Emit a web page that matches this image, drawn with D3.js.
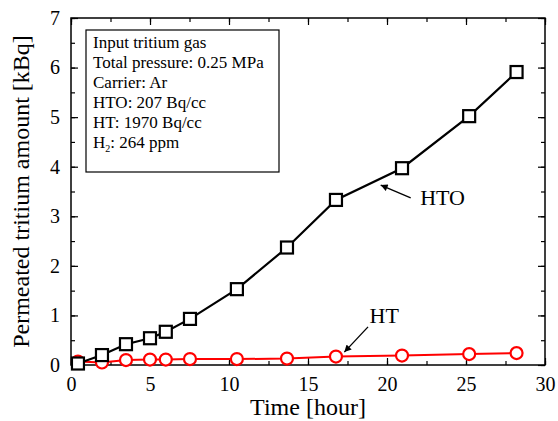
<!DOCTYPE html>
<head><meta charset="utf-8"/></head>
<style>
body { margin: 0; background: white; }
svg { font-family: "Liberation Serif", "Times New Roman", serif; }
</style>
<script src="https://d3js.org/d3.v7.min.js"></script>
<body>
<div id="chart"></div>
</body>
<script>

// data
var hours = [0.44, 1.96, 3.48, 5.0, 6.0, 7.53, 10.5, 13.67, 16.77, 20.95, 25.2, 28.2];
var htoValues = [0.03, 0.2, 0.42, 0.54, 0.67, 0.93, 1.53, 2.37, 3.33, 3.97, 5.02, 5.91];
var htValues = [0.07, 0.05, 0.1, 0.11, 0.11, 0.12, 0.12, 0.13, 0.17, 0.19, 0.22, 0.24];
var xTicks = [0, 5, 10, 15, 20, 25, 30];
var yTicks = [0, 1, 2, 3, 4, 5, 6, 7];
var infoLines = ["Input tritium gas", "Total pressure: 0.25 MPa", "Carrier: Ar",
    "HTO: 207 Bq/cc", "HT: 1970 Bq/cc", "H2: 264 ppm"];

var margin = {top: 18, left: 71, right: 13, bottom: 56},
    width = 558 - margin.left - margin.right,
    height = 421 - margin.top - margin.bottom;

var svg = d3.select("#chart")
    .append("svg")
    .attr("width", 558)
    .attr("height", 421)
    .append("g")
    .attr("transform", "translate(" + margin.left + "," + margin.top + ")");

var x = d3.scaleLinear().domain([0, 30]).range([0, width]);
var y = d3.scaleLinear().domain([0, 7]).range([height, 0]);

var xMinor = d3.range(0, 30.01, 2.5);
var yMinor = d3.range(0, 7.01, 0.5);

// axes, ticks pointing inward
svg.append("g")
    .attr("transform", "translate(0," + height + ")")
    .call(d3.axisBottom(x).tickValues(xMinor).tickSize(-4).tickFormat(""));
svg.append("g")
    .attr("transform", "translate(0," + height + ")")
    .call(d3.axisBottom(x).tickValues(xTicks).tickSize(-7).tickPadding(12).tickFormat(d3.format("d")));
svg.append("g")
    .call(d3.axisTop(x).tickValues(xMinor).tickSize(-4).tickFormat(""));
svg.append("g")
    .call(d3.axisTop(x).tickValues(xTicks).tickSize(-7).tickFormat(""));

svg.append("g")
    .call(d3.axisLeft(y).tickValues(yMinor).tickSize(-4).tickFormat(""));
svg.append("g")
    .call(d3.axisLeft(y).tickValues(yTicks).tickSize(-7).tickPadding(11).tickFormat(d3.format("d")));
svg.append("g")
    .attr("transform", "translate(" + width + ",0)")
    .call(d3.axisRight(y).tickValues(yMinor).tickSize(-4).tickFormat(""));
svg.append("g")
    .attr("transform", "translate(" + width + ",0)")
    .call(d3.axisRight(y).tickValues(yTicks).tickSize(-7).tickFormat(""));

svg.selectAll(".domain").remove();
svg.selectAll("g").attr("font-family", null);
svg.selectAll(".tick line").attr("stroke", "black").attr("stroke-width", 1.2);
svg.selectAll(".tick text").attr("fill", "black").style("font-size", "20px");

svg.append("rect")
    .attr("width", width)
    .attr("height", height)
    .attr("fill", "none")
    .attr("stroke", "black")
    .attr("stroke-width", 1.5);

// axis titles
svg.append("text")
    .attr("x", width / 2)
    .attr("y", height + 50)
    .attr("text-anchor", "middle")
    .style("font-size", "24px")
    .text("Time [hour]");

svg.append("text")
    .attr("transform", "translate(" + (-42) + "," + (height / 2) + ") rotate(-90)")
    .attr("text-anchor", "middle")
    .style("font-size", "24px")
    .text("Permeated tritium amount [kBq]");

// info box
svg.append("rect")
    .attr("x", 15)
    .attr("y", 12)
    .attr("width", 193)
    .attr("height", 142)
    .attr("fill", "white")
    .attr("stroke", "black")
    .attr("stroke-width", 1.2);

var info = svg.append("g").style("font-size", "17px");
infoLines.forEach(function(t, i) {
    var tx = info.append("text")
        .attr("x", 22)
        .attr("y", 30 + i * 20);
    if (t.indexOf("H2") == 0) {
        tx.append("tspan").text("H");
        tx.append("tspan").attr("dy", 4).style("font-size", "10px").text("2");
        tx.append("tspan").attr("dy", -4).text(t.slice(2));
    } else {
        tx.text(t);
    }
});

var pts = function(vals) {
    return hours.map(function(h, i) { return [h, vals[i]]; });
};
var line = d3.line()
    .x(function(d) { return x(d[0]); })
    .y(function(d) { return y(d[1]); });

// HT (red circles)
svg.append("path")
    .datum(pts(htValues))
    .attr("d", line)
    .attr("fill", "none")
    .attr("stroke", "red")
    .attr("stroke-width", 2);
svg.selectAll(".ht")
    .data(pts(htValues))
    .enter().append("circle")
    .attr("class", "ht")
    .attr("cx", function(d) { return x(d[0]); })
    .attr("cy", function(d) { return y(d[1]); })
    .attr("r", 6)
    .attr("fill", "white")
    .attr("stroke", "red")
    .attr("stroke-width", 2.2);

// HTO (black squares)
svg.append("path")
    .datum(pts(htoValues))
    .attr("d", line)
    .attr("fill", "none")
    .attr("stroke", "black")
    .attr("stroke-width", 2.2);
svg.selectAll(".hto")
    .data(pts(htoValues))
    .enter().append("rect")
    .attr("class", "hto")
    .attr("x", function(d) { return x(d[0]) - 6; })
    .attr("y", function(d) { return y(d[1]) - 6; })
    .attr("width", 12)
    .attr("height", 12)
    .attr("fill", "white")
    .attr("stroke", "black")
    .attr("stroke-width", 2.2);

// annotations
svg.append("defs").append("marker")
    .attr("id", "arrow")
    .attr("viewBox", "0 0 10 10")
    .attr("refX", 10).attr("refY", 5)
    .attr("markerWidth", 9).attr("markerHeight", 7)
    .attr("markerUnits", "userSpaceOnUse")
    .attr("orient", "auto")
    .append("path")
    .attr("d", "M0,0 L10,5 L0,10 z")
    .attr("fill", "black");

svg.append("line")
    .attr("x1", x(21.5)).attr("y1", y(3.37))
    .attr("x2", x(19.6)).attr("y2", y(3.63))
    .attr("stroke", "black").attr("stroke-width", 1.3)
    .attr("marker-end", "url(#arrow)");
svg.append("text")
    .attr("x", x(22.1)).attr("y", y(3.22))
    .style("font-size", "22px")
    .text("HTO");

svg.append("line")
    .attr("x1", x(18.8)).attr("y1", y(0.77))
    .attr("x2", x(17.3)).attr("y2", y(0.26))
    .attr("stroke", "black").attr("stroke-width", 1.3)
    .attr("marker-end", "url(#arrow)");
svg.append("text")
    .attr("x", x(18.9)).attr("y", y(0.85))
    .style("font-size", "22px")
    .text("HT");

</script>
